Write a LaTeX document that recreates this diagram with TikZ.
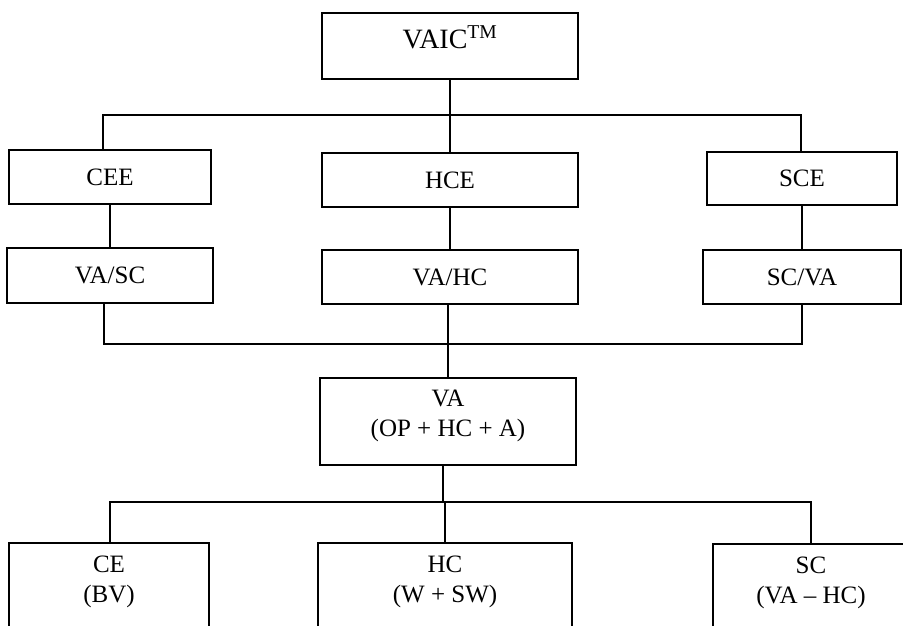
\documentclass[tikz,border=0pt]{standalone}
\usepackage{fontspec}
\setmainfont{Liberation Serif}
\begin{document}
\begin{tikzpicture}[x=1pt,y=-1pt, line width=1.4pt,
  box/.style={draw, rectangle, inner sep=0pt, font=\fontsize{25}{29}\selectfont},
  txt/.style={inner sep=0pt, align=center, font=\fontsize{25}{30}\selectfont},
  big/.style={inner sep=0pt, font=\fontsize{28}{32}\selectfont}]
\useasboundingbox (0,0) rectangle (903,625);
\clip (0,0) rectangle (903,625);
% boxes
\node[box, minimum width=256pt, minimum height=66pt] (vaic) at (450,46) {};
\node[big, anchor=base] (vaicT) at (450,48) {VAIC\textsuperscript{TM}};
\node[box, minimum width=202pt, minimum height=54pt] (cee) at (110,177) {CEE};
\node[box, minimum width=256pt, minimum height=54pt] (hce) at (450,180) {HCE};
\node[box, minimum width=190pt, minimum height=53pt] (sce) at (802,178.5) {SCE};
\node[box, minimum width=206pt, minimum height=55pt] (vasc) at (110,275.5) {VA/SC};
\node[box, minimum width=256pt, minimum height=54pt] (vahc) at (450,277) {VA/HC};
\node[box, minimum width=198pt, minimum height=54pt] (scva) at (802,277) {SC/VA};
\node[box, minimum width=256pt, minimum height=87pt] (va) at (448,421.5) {};
\node[txt] (vaT) at (448,416) {VA\\(OP + HC + A)};
\node[box, minimum width=200pt, minimum height=100pt] (ce) at (109,593) {};
\node[txt] (ceT) at (109,582) {CE\\(BV)};
\node[box, minimum width=254pt, minimum height=100pt] (hc) at (445,593) {};
\node[txt] (hcT) at (445,582) {HC\\(W + SW)};
\node[box, minimum width=196pt, minimum height=100pt] (sc) at (811,594) {};
\node[txt] (scT) at (811,583) {SC\\(VA -- HC)};
% first level bar
\coordinate (b1l) at (103,115);
\coordinate (b1r) at (801,115);
\draw (vaic.south) -- (vaic.south |- b1l);
\draw (b1l |- cee.north) -- (b1l) -- (b1r) -- (b1r |- sce.north);
\draw (hce.north |- b1l) -- (hce.north);
% second level
\draw (cee.south) -- (vasc.north);
\draw (hce.south) -- (vahc.north);
\draw (sce.south) -- (scva.north);
% collecting bar
\coordinate (b2l) at (104,344);
\coordinate (b2r) at (802,344);
\draw (b2l |- vasc.south) -- (b2l) -- (b2r) -- (b2r |- scva.south);
\draw (vahc.south -| va.north) -- (va.north);
% lower bar
\coordinate (b3c) at (443,502);
\coordinate (b3l) at (110,502);
\coordinate (b3r) at (811,502);
\draw (b3c |- va.south) -- (b3c);
\draw (b3l |- ce.north) -- (b3l) -- (b3r) -- (b3r |- sc.north);
\draw (b3c -| hc.north) -- (hc.north);
\end{tikzpicture}
\end{document}
